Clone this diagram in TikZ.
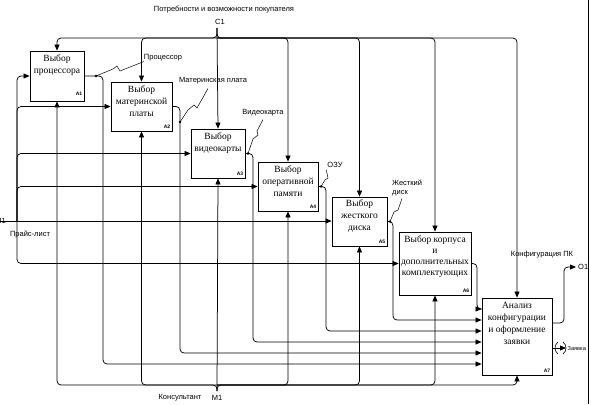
\documentclass[tikz,border=0pt]{standalone}
\usepackage{fontspec}
\setmainfont{Liberation Serif}
\setsansfont{Liberation Sans}
\usetikzlibrary{arrows.meta,calc}
\begin{document}
\begin{tikzpicture}[x=1pt,y=-1pt,
  box/.style={draw, line width=0.8pt, inner sep=0pt},
  btext/.style={font=\fontsize{9.5}{12}\selectfont, align=center, anchor=north, inner sep=0pt},
  idx/.style={font=\sffamily\bfseries\fontsize{5}{6}\selectfont, anchor=south east, inner sep=0pt},
  lbl/.style={font=\sffamily\fontsize{7.5}{9}\selectfont, inner sep=0pt},
  conn/.style={draw, line width=0.75pt, rounded corners=4pt},
  arr/.style={conn, -{Triangle[length=6pt,width=5pt]}},
  sq/.style={draw, line width=0.5pt},
  dotc/.style={circle, fill, inner sep=0pt, minimum size=2.6pt},
]
\useasboundingbox (0,0) rectangle (591,404);
% boxes
\node[box, minimum width=54pt, minimum height=50pt] (A1) at (57,76) {};
\node[box, minimum width=61pt, minimum height=49pt] (A2) at (141.5,106.5) {};
\node[box, minimum width=54pt, minimum height=49pt] (A3) at (218,153.5) {};
\node[box, minimum width=60pt, minimum height=49pt] (A4) at (288,186.5) {};
\node[box, minimum width=55pt, minimum height=49pt] (A5) at (359.5,221.5) {};
\node[box, minimum width=72pt, minimum height=63pt] (A6) at (435,263.5) {};
\node[box, minimum width=70pt, minimum height=77pt] (A7) at (517,336.5) {};
% box texts
\node[btext] (t1) at ($(A1.north)+(0,4)$) {Выбор\\процессора};
\node[btext] (t2) at ($(A2.north)+(0,4)$) {Выбор\\материнской\\платы};
\node[btext] (t3) at ($(A3.north)+(0,4)$) {Выбор\\видеокарты};
\node[btext] (t4) at ($(A4.north)+(0,4)$) {Выбор\\оперативной\\памяти};
\node[btext] (t5) at ($(A5.north)+(0,3)$) {Выбор\\жесткого\\диска};
\node[btext, font=\fontsize{9.5}{11}\selectfont] (t6) at ($(A6.north)+(0,4)$) {Выбор корпуса\\и\\дополнительных\\комплектующих};
\node[btext] (t7) at ($(A7.north)+(0,4)$) {Анализ\\конфигурации\\и оформление\\заявки};
% indices
\node[idx] (i1) at ($(A1.south east)+(-2,-6)$) {A1};
\node[idx] (i2) at ($(A2.south east)+(-2,-3)$) {A2};
\node[idx] (i3) at ($(A3.south east)+(-2,-3)$) {A3};
\node[idx] (i4) at ($(A4.south east)+(-2,-3)$) {A4};
\node[idx] (i5) at ($(A5.south east)+(-2,-3)$) {A5};
\node[idx] (i6) at ($(A6.south east)+(-2,-3)$) {A6};
\node[idx] (i7) at ($(A7.south east)+(-2,-3)$) {A7};
% frame line right
\draw[line width=0.8pt] (588,0) -- (588,404);
% control C1
\coordinate (C1) at (217,28);
\coordinate (Cj) at (217,38);
\draw[arr] (C1) -- (A3.north);
\draw[arr] (C1) |- (A1.north |- Cj) -- (A1.north);
\draw[arr] (C1) |- (A7.north |- Cj) -- (A7.north);
\draw[arr] (Cj) -| (A2.north);
\draw[arr] (Cj) -| (A4.north);
\draw[arr] (Cj) -| (A5.north);
\draw[arr] (Cj) -| (A6.north);
\node[lbl] (cl) at (224,10) {Потребности и возможности покупателя};
\node[lbl] (cn) at (220,22) {C1};
% mechanism M1
\coordinate (M1) at (217,391);
\coordinate (Mj) at (217,385);
\draw[arr] (M1) -- (A3.south);
\draw[arr] (M1) |- (A1.south |- Mj) -- (A1.south);
\draw[arr] (M1) |- (A7.south |- Mj) -- (A7.south);
\draw[arr] (Mj) -| (A2.south);
\draw[arr] (Mj) -| (A4.south);
\draw[arr] (Mj) -| (A5.south);
\draw[arr] (Mj) -| (A6.south);
\node[lbl] (ml) at (180,398) {Консультант};
\node[lbl] (mn) at (217,398) {M1};
% input I1
\coordinate (I1) at (0,221);
\coordinate (Ij) at (17,221);
\draw[arr] (I1) -- (I1 -| A5.west);
\draw[arr] (Ij) |- (A1.west);
\draw[arr] (Ij) |- (A2.west);
\draw[arr] (Ij) |- (A3.west);
\draw[arr] (Ij) |- (A4.west);
\draw[arr] (Ij) |- (A6.west);
\node[lbl, anchor=east] (il) at (6,221) {I1};
\node[lbl] (pl) at (30,234) {Прайс-лист};
% outputs into A7
\draw[arr] (A1.east) -| (103,364) -- (A7.west |- 0,364);
\draw[arr] (A2.east) -| (180,353) -- (A7.west |- 0,353);
\draw[arr] (A3.east) -| (253,342) -- (A7.west |- 0,342);
\draw[arr] (A4.east) -| (326,331) -- (A7.west |- 0,331);
\draw[arr] (A5.east) -| (393,320) -- (A7.west |- 0,320);
\draw[arr] (A6.east) -| (477,309) -- (A7.west |- 0,309);
% output labels
\node[lbl] (lp) at (163,58) {Процессор};
\node[dotc] (d1) at (96,76) {};
\draw[sq] (d1.center) -- (113,69) -- (117,66) -- (120,71) -- (lp.south west);
\node[lbl] (lm) at (213,81) {Материнская плата};
\node[dotc] (d2) at (180,122) {};
\draw[sq] (d2.center) -- (188,110) -- (194,105) -- (197,108) -- ($(lm.south)+(-5,4)$);
\node[lbl] (lv) at (263,113) {Видеокарта};
\node[dotc] (d3) at (248,153.5) {};
\draw[sq] (d3.center) -- (253,139) -- (258,135) -- (257,131) -- ($(lv.south)+(0,3)$);
\node[lbl] (lo) at (335,165) {ОЗУ};
\node[dotc] (d4) at (321,186.5) {};
\draw[sq] (d4.center) -- (325,180) -- (328,178) -- ($(lo.south west)+(-1,2)$);
\node[lbl, align=left, anchor=north west] (lz) at (392,180) {Жесткий\\диск};
\node[dotc] (d5) at (390,221.5) {};
\draw[sq] (d5.center) -- (394,212) -- (398,210) -- ($(lz.south west)+(10,2)$);
% A7 outputs
\coordinate (O1) at (576,267);
\draw[arr] (A7.east |- 0,323) -| (564,267) -- (O1);
\node[lbl, anchor=west] (on) at (578,267) {O1};
\node[lbl] (kl) at (542,255) {Конфигурация ПК};
\coordinate (O2) at (566,348);
\draw[arr] (A7.east |- O2) -- (O2);
\draw[line width=0.6pt] (558,342) .. controls (554,345) and (554,351) .. (558,354);
\draw[line width=0.6pt] (563,342) .. controls (567,345) and (567,351) .. (563,354);
\node[lbl, anchor=west, font=\sffamily\fontsize{5.6}{7}\selectfont] (zl) at (567.5,348.5) {Заявка};
\end{tikzpicture}
\end{document}
